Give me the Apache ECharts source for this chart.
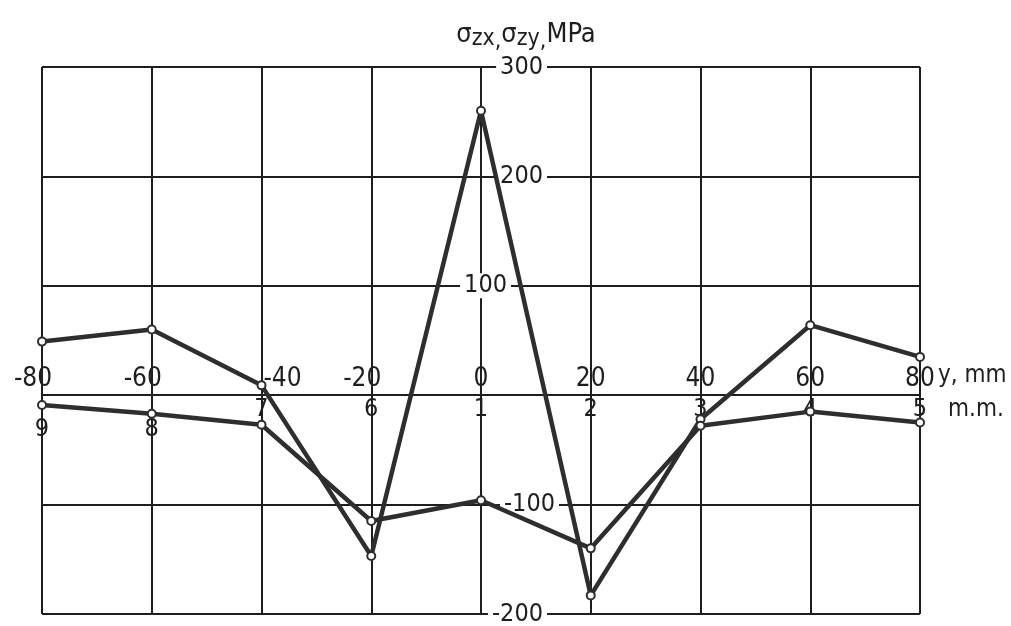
<!DOCTYPE html>
<html>
<head>
<meta charset="utf-8">
<script src="https://cdn.jsdelivr.net/npm/echarts@6/dist/echarts.min.js"></script>
<style>
  html, body { margin: 0; padding: 0; background: #fff; }
  #chart { width: 1011px; height: 626px; }
</style>
</head>
<body>
<div id="chart"></div>
<script>
  // coordinate along the plate, mm
  var yMm = [-80, -60, -40, -20, 0, 20, 40, 60, 80];
  // measuring point numbers
  var pointNums = ['9', '8', '7', '6', '1', '2', '3', '4', '5'];
  // stress curves, MPa
  var sigmaA = [49, 60, 9, -147, 260, -183, -22, 64, 35];
  var sigmaB = [-9, -17, -27, -115, -96, -140, -28, -15, -25];
  // y axis ticks
  var yTicks = [-200, -100, 0, 100, 200, 300];

  var ink = '#1e1e1e';
  var font = '"Liberation Sans Narrow", "DejaVu Sans Condensed", sans-serif';

  // plot box, px
  var gLeft = 42, gRight = 91, gTop = 67, gBottom = 12;
  var plotW = 1011 - gLeft - gRight;
  var plotH = 626 - gTop - gBottom;
  // where the zero lines fall inside the box (labels sit on them, like the drawing)
  var zeroY = plotH * yTicks[yTicks.length - 1] / (yTicks[yTicks.length - 1] - yTicks[0]);
  var zeroX = plotW / 2;

  function pairs(ys) {
    return yMm.map(function (x, i) { return [x, ys[i]]; });
  }

  var lineStyle = { color: '#2e2e2e', width: 4.5 };
  var markStyle = { color: '#fff', borderColor: '#2e2e2e', borderWidth: 2 };

  var chart = echarts.init(document.getElementById('chart'));
  chart.setOption({
    backgroundColor: '#fff',
    animation: false,
    title: {
      text: '{s|σ}{b|zx}{c|,}{s|σ}{b|zy}{c|,}{s|MPa}',
      left: 521,
      top: 11,
      textAlign: 'center',
      textStyle: {
        fontWeight: 'normal',
        rich: {
          s: { fontFamily: font, fontSize: 27, color: ink, fontWeight: 'normal' },
          b: { fontFamily: font, fontSize: 23, color: ink, fontWeight: 'normal', padding: [10, 0, 0, 0] },
          c: { fontFamily: font, fontSize: 23, color: ink, fontWeight: 'normal', padding: [14, 0, 0, 0] }
        }
      }
    },
    grid: { left: gLeft, right: gRight, top: gTop, bottom: gBottom, outerBoundsMode: 'none' },
    xAxis: {
      type: 'value',
      position: 'bottom',
      min: -80, max: 80, interval: 20,
      axisLine: { show: false, onZero: false },
      axisTick: { show: false },
      splitLine: { show: true, lineStyle: { color: ink, width: 2 } },
      axisLabel: {
        margin: -(plotH - zeroY) - 31,
        formatter: function (v) {
          var n = pointNums[yMm.indexOf(v)];
          var top;
          if (v === -40) top = '{sp|}{a|' + v + '}';       // pushed right of the marker
          else if (v < 0) top = '{a|' + v + '}{sm|}';      // minus hangs left
          else top = '{a|' + v + '}';
          return top + '\n' + (v <= -60 ? '{lo|' + n + '}' : '{b|' + n + '}');
        },
        rich: {
          a: { fontFamily: font, fontSize: 26, color: ink, lineHeight: 30 },
          b: { fontFamily: font, fontSize: 25, color: ink, lineHeight: 30 },
          lo: { fontFamily: font, fontSize: 25, color: ink, lineHeight: 70 },
          sp: { width: 42 },
          sm: { width: 18 }
        }
      }
    },
    yAxis: {
      type: 'value',
      position: 'left',
      min: yTicks[0], max: yTicks[yTicks.length - 1], interval: 100,
      axisLine: { show: false, onZero: false },
      axisTick: { show: false },
      splitLine: { show: true, lineStyle: { color: ink, width: 2 } },
      axisLabel: {
        margin: -zeroX - 78,
        align: 'right',
        formatter: function (v) {
          if (v === 0) return '';
          if (v === 100) return '{t|100}{w|}';
          if (v === -100) return '{t|-100}';
          return '{t|' + v + '}{n|}';
        },
        rich: {
          t: { fontFamily: font, fontSize: 25, color: ink, backgroundColor: '#fff', padding: [0, 4] },
          w: { width: 48 },
          n: { width: 12 }
        }
      }
    },
    series: [{
      type: 'line',
      data: pairs(sigmaA),
      symbol: 'circle', symbolSize: 8,
      lineStyle: lineStyle, itemStyle: markStyle, z: 5
    }, {
      type: 'line',
      data: pairs(sigmaB),
      symbol: 'circle', symbolSize: 8,
      lineStyle: lineStyle, itemStyle: markStyle, z: 5
    }]
  });

  // axis captions next to the right end of the zero line
  var endPt = chart.convertToPixel({ gridIndex: 0 }, [yMm[yMm.length - 1], 0]);
  chart.setOption({
    graphic: [{
      type: 'text',
      left: endPt[0] + 18,
      top: endPt[1] - 31,
      style: { text: 'y, mm', fontFamily: font, fontSize: 24, fill: ink }
    }, {
      type: 'text',
      left: endPt[0] + 28,
      top: endPt[1] + 3,
      style: { text: 'm.m.', fontFamily: font, fontSize: 24, fill: ink }
    }]
  });
</script>
</body>
</html>
